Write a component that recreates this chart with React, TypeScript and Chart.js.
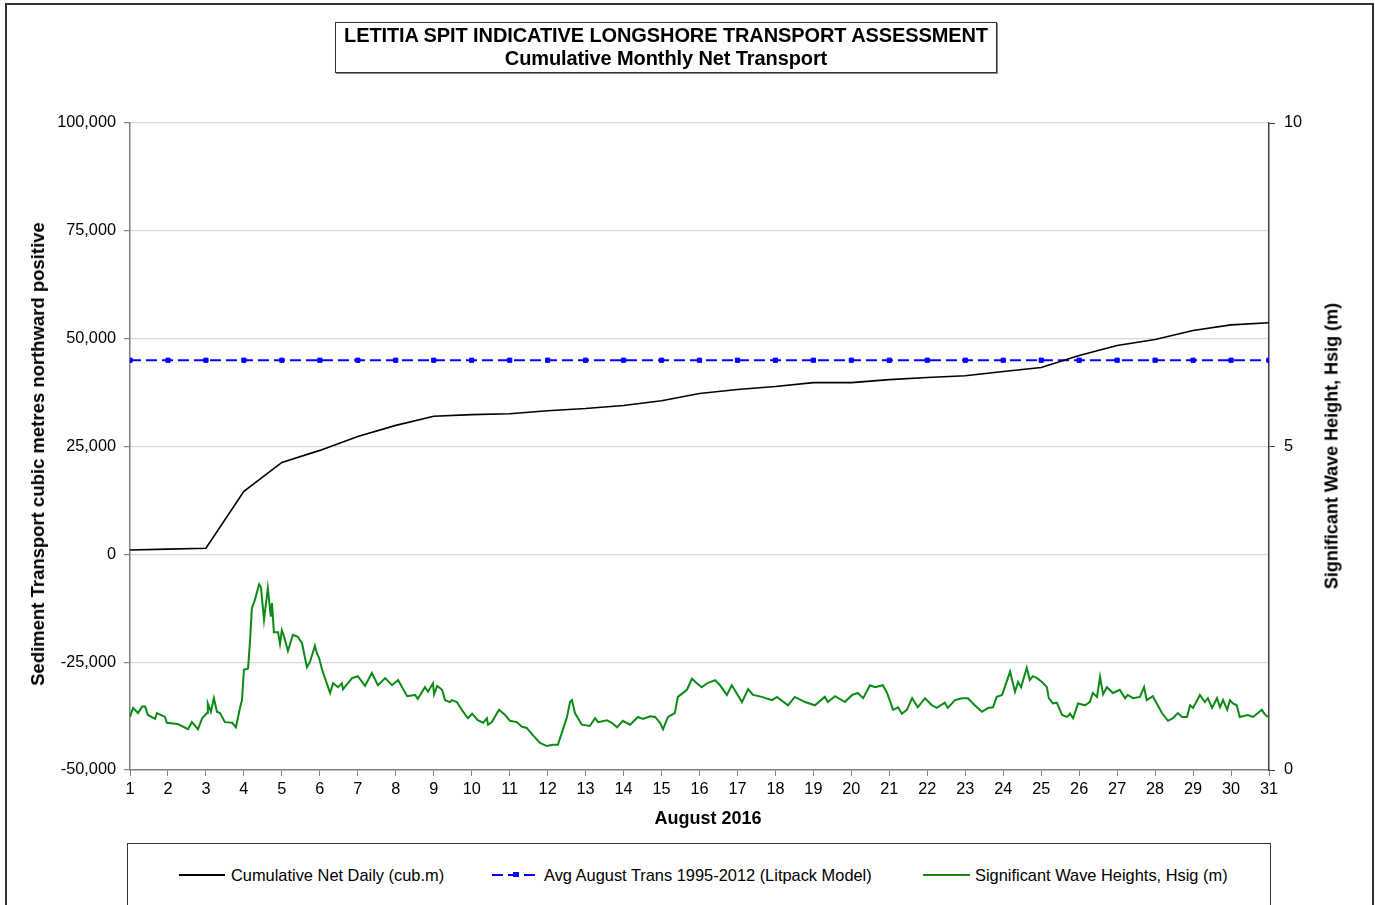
import React, { useEffect, useRef } from "react";
import { Chart, registerables } from "chart.js";

Chart.register(...registerables);

const FONT = '"Liberation Sans", Arial, sans-serif';

// ---- Data ----
const days = [1, 2, 3, 4, 5, 6, 7, 8, 9, 10, 11, 12, 13, 14, 15, 16, 17, 18, 19, 20, 21, 22, 23, 24, 25, 26, 27, 28, 29, 30, 31];

const cumulativeNet = [1000, 1200, 1400, 14600, 21300, 24100, 27300, 29900, 32000, 32400, 32600, 33300, 33800, 34500, 35600, 37300, 38200, 38900, 39800, 39800, 40500, 41000, 41400, 42400, 43300, 46100, 48400, 49800, 51900, 53200, 53700];

const avgAugust = [45000, 45000, 45000, 45000, 45000, 45000, 45000, 45000, 45000, 45000, 45000, 45000, 45000, 45000, 45000, 45000, 45000, 45000, 45000, 45000, 45000, 45000, 45000, 45000, 45000, 45000, 45000, 45000, 45000, 45000, 45000];

const waveTime = [
  1.00, 1.08, 1.21, 1.32, 1.40, 1.47, 1.66, 1.71, 1.92, 1.97,
  2.26, 2.53, 2.63, 2.79, 2.90, 3.03, 3.05, 3.13, 3.21, 3.29,
  3.37, 3.50, 3.69, 3.79, 3.90, 3.95, 4.00, 4.11, 4.16, 4.21,
  4.29, 4.40, 4.45, 4.53, 4.63, 4.71, 4.74, 4.79, 4.90, 4.95,
  5.00, 5.06, 5.16, 5.29, 5.42, 5.53, 5.66, 5.74, 5.87, 5.92,
  5.98, 6.06, 6.27, 6.35, 6.48, 6.58, 6.61, 6.85, 7.00, 7.19,
  7.37, 7.53, 7.72, 7.90, 8.06, 8.30, 8.51, 8.58, 8.77, 8.85,
  8.98, 9.01, 9.09, 9.22, 9.30, 9.43, 9.48, 9.61, 9.74, 9.90,
  10.01, 10.16, 10.30, 10.40, 10.43, 10.53, 10.72, 10.88, 11.01, 11.19,
  11.32, 11.45, 11.61, 11.80, 11.98, 12.14, 12.27, 12.40, 12.51, 12.59,
  12.64, 12.72, 12.90, 13.11, 13.25, 13.33, 13.56, 13.69, 13.83, 13.98,
  14.17, 14.38, 14.51, 14.70, 14.83, 14.96, 15.04, 15.17, 15.35, 15.43,
  15.67, 15.80, 15.93, 16.06, 16.20, 16.41, 16.54, 16.72, 16.85, 17.12,
  17.28, 17.41, 17.64, 17.91, 18.04, 18.33, 18.51, 18.78, 19.04, 19.30,
  19.38, 19.57, 19.83, 20.02, 20.17, 20.31, 20.49, 20.62, 20.83, 20.94,
  21.10, 21.23, 21.33, 21.46, 21.60, 21.75, 21.94, 22.12, 22.25, 22.46,
  22.54, 22.73, 22.91, 23.07, 23.25, 23.44, 23.60, 23.73, 23.83, 23.97,
  24.04, 24.18, 24.31, 24.39, 24.47, 24.62, 24.70, 24.78, 24.89, 25.02,
  25.15, 25.20, 25.31, 25.41, 25.55, 25.68, 25.76, 25.84, 25.97, 26.15,
  26.28, 26.36, 26.47, 26.55, 26.63, 26.73, 26.89, 27.07, 27.21, 27.28,
  27.42, 27.60, 27.71, 27.78, 27.94, 28.18, 28.34, 28.47, 28.60, 28.71,
  28.84, 28.92, 29.00, 29.18, 29.31, 29.39, 29.50, 29.63, 29.71, 29.79,
  29.90, 29.97, 30.05, 30.15, 30.23, 30.44, 30.58, 30.71, 30.81, 30.89,
  30.97,
];

const waveHeight = [
  0.82, 0.96, 0.88, 0.98, 0.98, 0.85, 0.79, 0.88, 0.82, 0.73,
  0.71, 0.63, 0.74, 0.63, 0.80, 0.88, 1.03, 0.90, 1.11, 0.90,
  0.88, 0.74, 0.73, 0.66, 0.97, 1.08, 1.55, 1.57, 1.98, 2.50,
  2.63, 2.87, 2.82, 2.32, 2.81, 2.37, 2.58, 2.13, 2.13, 1.95,
  2.16, 2.06, 1.84, 2.09, 2.06, 1.96, 1.59, 1.67, 1.92, 1.81,
  1.73, 1.55, 1.19, 1.34, 1.28, 1.34, 1.25, 1.42, 1.45, 1.30,
  1.50, 1.31, 1.42, 1.31, 1.39, 1.14, 1.16, 1.10, 1.28, 1.21,
  1.34, 1.17, 1.30, 1.24, 1.08, 1.05, 1.08, 1.05, 0.93, 0.80,
  0.87, 0.77, 0.73, 0.80, 0.70, 0.74, 0.93, 0.85, 0.76, 0.74,
  0.67, 0.65, 0.54, 0.42, 0.37, 0.39, 0.39, 0.62, 0.82, 1.05,
  1.08, 0.88, 0.70, 0.68, 0.80, 0.74, 0.77, 0.73, 0.66, 0.76,
  0.70, 0.82, 0.79, 0.83, 0.82, 0.73, 0.63, 0.82, 0.88, 1.13,
  1.24, 1.41, 1.34, 1.28, 1.34, 1.39, 1.31, 1.16, 1.31, 1.05,
  1.25, 1.16, 1.13, 1.08, 1.13, 1.00, 1.13, 1.05, 1.00, 1.13,
  1.05, 1.14, 1.05, 1.16, 1.19, 1.11, 1.31, 1.28, 1.31, 1.19,
  0.93, 0.97, 0.87, 0.93, 1.11, 0.97, 1.11, 1.00, 0.96, 1.04,
  0.96, 1.08, 1.11, 1.11, 1.00, 0.90, 0.96, 0.97, 1.13, 1.16,
  1.28, 1.52, 1.21, 1.36, 1.28, 1.58, 1.39, 1.45, 1.42, 1.36,
  1.28, 1.11, 1.03, 1.04, 0.85, 0.82, 0.87, 0.80, 1.03, 1.00,
  1.05, 1.19, 1.13, 1.44, 1.17, 1.28, 1.19, 1.24, 1.11, 1.16,
  1.11, 1.13, 1.28, 1.08, 1.14, 0.88, 0.76, 0.80, 0.88, 0.82,
  0.82, 1.00, 0.96, 1.16, 1.05, 1.11, 0.96, 1.11, 0.97, 1.08,
  0.93, 1.08, 1.03, 1.00, 0.82, 0.85, 0.82, 0.88, 0.93, 0.86,
  0.82,
];

const titleLines = ["LETITIA SPIT INDICATIVE LONGSHORE TRANSPORT ASSESSMENT", "Cumulative Monthly Net Transport"];
const xTitle = "August 2016";
const yLeftTitle = "Sediment Transport cubic metres northward positive";
const yRightTitle = "Significant Wave Height, Hsig (m)";
const seriesNames = ["Cumulative Net Daily (cub.m)", "Avg August Trans 1995-2012 (Litpack Model)", "Significant Wave Heights, Hsig (m)"];

const COLORS = { black: "#000000", blue: "#0000ff", green: "#0b8a16" };

export default function App() {
  const ref = useRef<HTMLCanvasElement>(null);

  useEffect(() => {
    if (!ref.current) return;
    const tickFont = { family: FONT, size: 16.3 };
    const chart = new Chart(ref.current, {
      type: "line",
      data: {
        datasets: [
          {
            label: seriesNames[0],
            data: days.map((d, i) => ({ x: d, y: cumulativeNet[i] })),
            borderColor: COLORS.black,
            backgroundColor: COLORS.black,
            borderWidth: 1.6,
            pointRadius: 0,
            tension: 0,
            yAxisID: "y",
          },
          {
            label: seriesNames[1],
            data: days.map((d, i) => ({ x: d, y: avgAugust[i] })),
            borderColor: COLORS.blue,
            backgroundColor: COLORS.blue,
            borderWidth: 2,
            borderDash: [11, 5],
            pointStyle: "rect",
            pointRadius: 3,
            pointBorderWidth: 1,
            pointBackgroundColor: COLORS.blue,
            pointBorderColor: COLORS.blue,
            yAxisID: "y",
          },
          {
            label: seriesNames[2],
            data: waveTime.map((t, i) => ({ x: t, y: waveHeight[i] })),
            borderColor: COLORS.green,
            backgroundColor: COLORS.green,
            borderWidth: 2,
            pointRadius: 0,
            tension: 0,
            yAxisID: "y2",
          },
        ],
      },
      options: {
        animation: false,
        responsive: false,
        maintainAspectRatio: false,
        layout: { padding: { top: 123, bottom: 76, left: 0, right: 0 } },
        plugins: {
          legend: { display: false },
          title: { display: false },
          tooltip: { enabled: false },
        },
        scales: {
          x: {
            type: "linear",
            position: "bottom",
            min: 1,
            max: 31,
            ticks: { stepSize: 1, color: "#000", font: tickFont, padding: 4, maxRotation: 0, autoSkip: false },
            grid: { drawOnChartArea: false, tickLength: 6, color: "#808080", tickColor: "#808080" },
            border: { color: "#808080", width: 1.5 },
            afterFit: (s: any) => { s.height = 59; },
          },
          y: {
            type: "linear",
            position: "left",
            min: -50000,
            max: 100000,
            ticks: {
              stepSize: 25000,
              color: "#000",
              font: tickFont,
              padding: 8,
              callback: (v: any) => Number(v).toLocaleString("en-US"),
            },
            grid: { drawOnChartArea: true, color: "#d9d9d9", tickColor: "#808080", tickLength: 6, lineWidth: 1.2 },
            border: { color: "#808080", width: 1.5 },
            afterFit: (s: any) => { s.width = 130; },
          },
          y2: {
            type: "linear",
            position: "right",
            min: 0,
            max: 10,
            ticks: { stepSize: 5, color: "#000", font: tickFont, padding: 9 },
            grid: { drawOnChartArea: false, color: "#404040", tickColor: "#404040", tickLength: 6 },
            border: { color: "#404040", width: 1.5 },
            afterFit: (s: any) => { s.width = 106; },
          },
        },
      },
    });
    return () => chart.destroy();
  }, []);

  const textStyle: React.CSSProperties = { fontFamily: FONT, color: "#000", whiteSpace: "nowrap" };

  return (
    <div style={{ position: "absolute", left: 0, top: 0, width: 1375, height: 905, overflow: "hidden", background: "#fff" }}>
      <div style={{ position: "absolute", left: 5, top: 3, width: 1365, height: 920, border: "2px solid #333" }} />
      <canvas ref={ref} width={1375} height={905} style={{ position: "absolute", left: 0, top: 0, width: 1375, height: 905 }} />
      {/* Title box */}
      <div
        style={{
          ...textStyle,
          position: "absolute",
          left: 335,
          top: 22,
          width: 660,
          height: 48,
          border: "1px solid #333",
          boxShadow: "1px 1px 0 #888",
          background: "#fff",
          textAlign: "center",
          fontWeight: "bold",
          fontSize: 20,
          lineHeight: "23px",
          paddingTop: 1,
          boxSizing: "content-box",
          letterSpacing: "-0.1px",
        }}
      >
        <div>{titleLines[0]}</div>
        <div>{titleLines[1]}</div>
      </div>
      {/* Left axis title */}
      <div
        style={{
          ...textStyle,
          position: "absolute",
          left: 38,
          top: 454,
          transform: "translate(-50%, -50%) rotate(-90deg)",
          fontWeight: "bold",
          fontSize: 18.5,
        }}
      >
        {yLeftTitle}
      </div>
      {/* Right axis title */}
      <div
        style={{
          ...textStyle,
          position: "absolute",
          left: 1332,
          top: 446,
          transform: "translate(-50%, -50%) rotate(-90deg)",
          fontWeight: "bold",
          fontSize: 18,
        }}
      >
        {yRightTitle}
      </div>
      {/* X axis title */}
      <div
        style={{
          ...textStyle,
          position: "absolute",
          left: 708,
          top: 818,
          transform: "translate(-50%, -50%)",
          fontWeight: "bold",
          fontSize: 18,
        }}
      >
        {xTitle}
      </div>
      {/* Legend box */}
      <div style={{ position: "absolute", left: 127, top: 843, width: 1142, height: 90, border: "1px solid #333", background: "#fff" }} />
      <svg style={{ position: "absolute", left: 0, top: 860 }} width={1375} height={30}>
        <line x1={179} y1={15} x2={225} y2={15} stroke={COLORS.black} strokeWidth={2} />
        <line x1={492} y1={15} x2={540} y2={15} stroke={COLORS.blue} strokeWidth={2} strokeDasharray="11 5" />
        <rect x={513} y={12} width={6} height={5} fill={COLORS.blue} />
        <line x1={923} y1={15} x2={970} y2={15} stroke={COLORS.green} strokeWidth={2} />
      </svg>
      <div style={{ ...textStyle, position: "absolute", left: 231, top: 865, fontSize: 16.4, lineHeight: "20px" }}>{seriesNames[0]}</div>
      <div style={{ ...textStyle, position: "absolute", left: 544, top: 865, fontSize: 16.4, lineHeight: "20px" }}>{seriesNames[1]}</div>
      <div style={{ ...textStyle, position: "absolute", left: 975, top: 865, fontSize: 16.4, lineHeight: "20px" }}>{seriesNames[2]}</div>
    </div>
  );
}
